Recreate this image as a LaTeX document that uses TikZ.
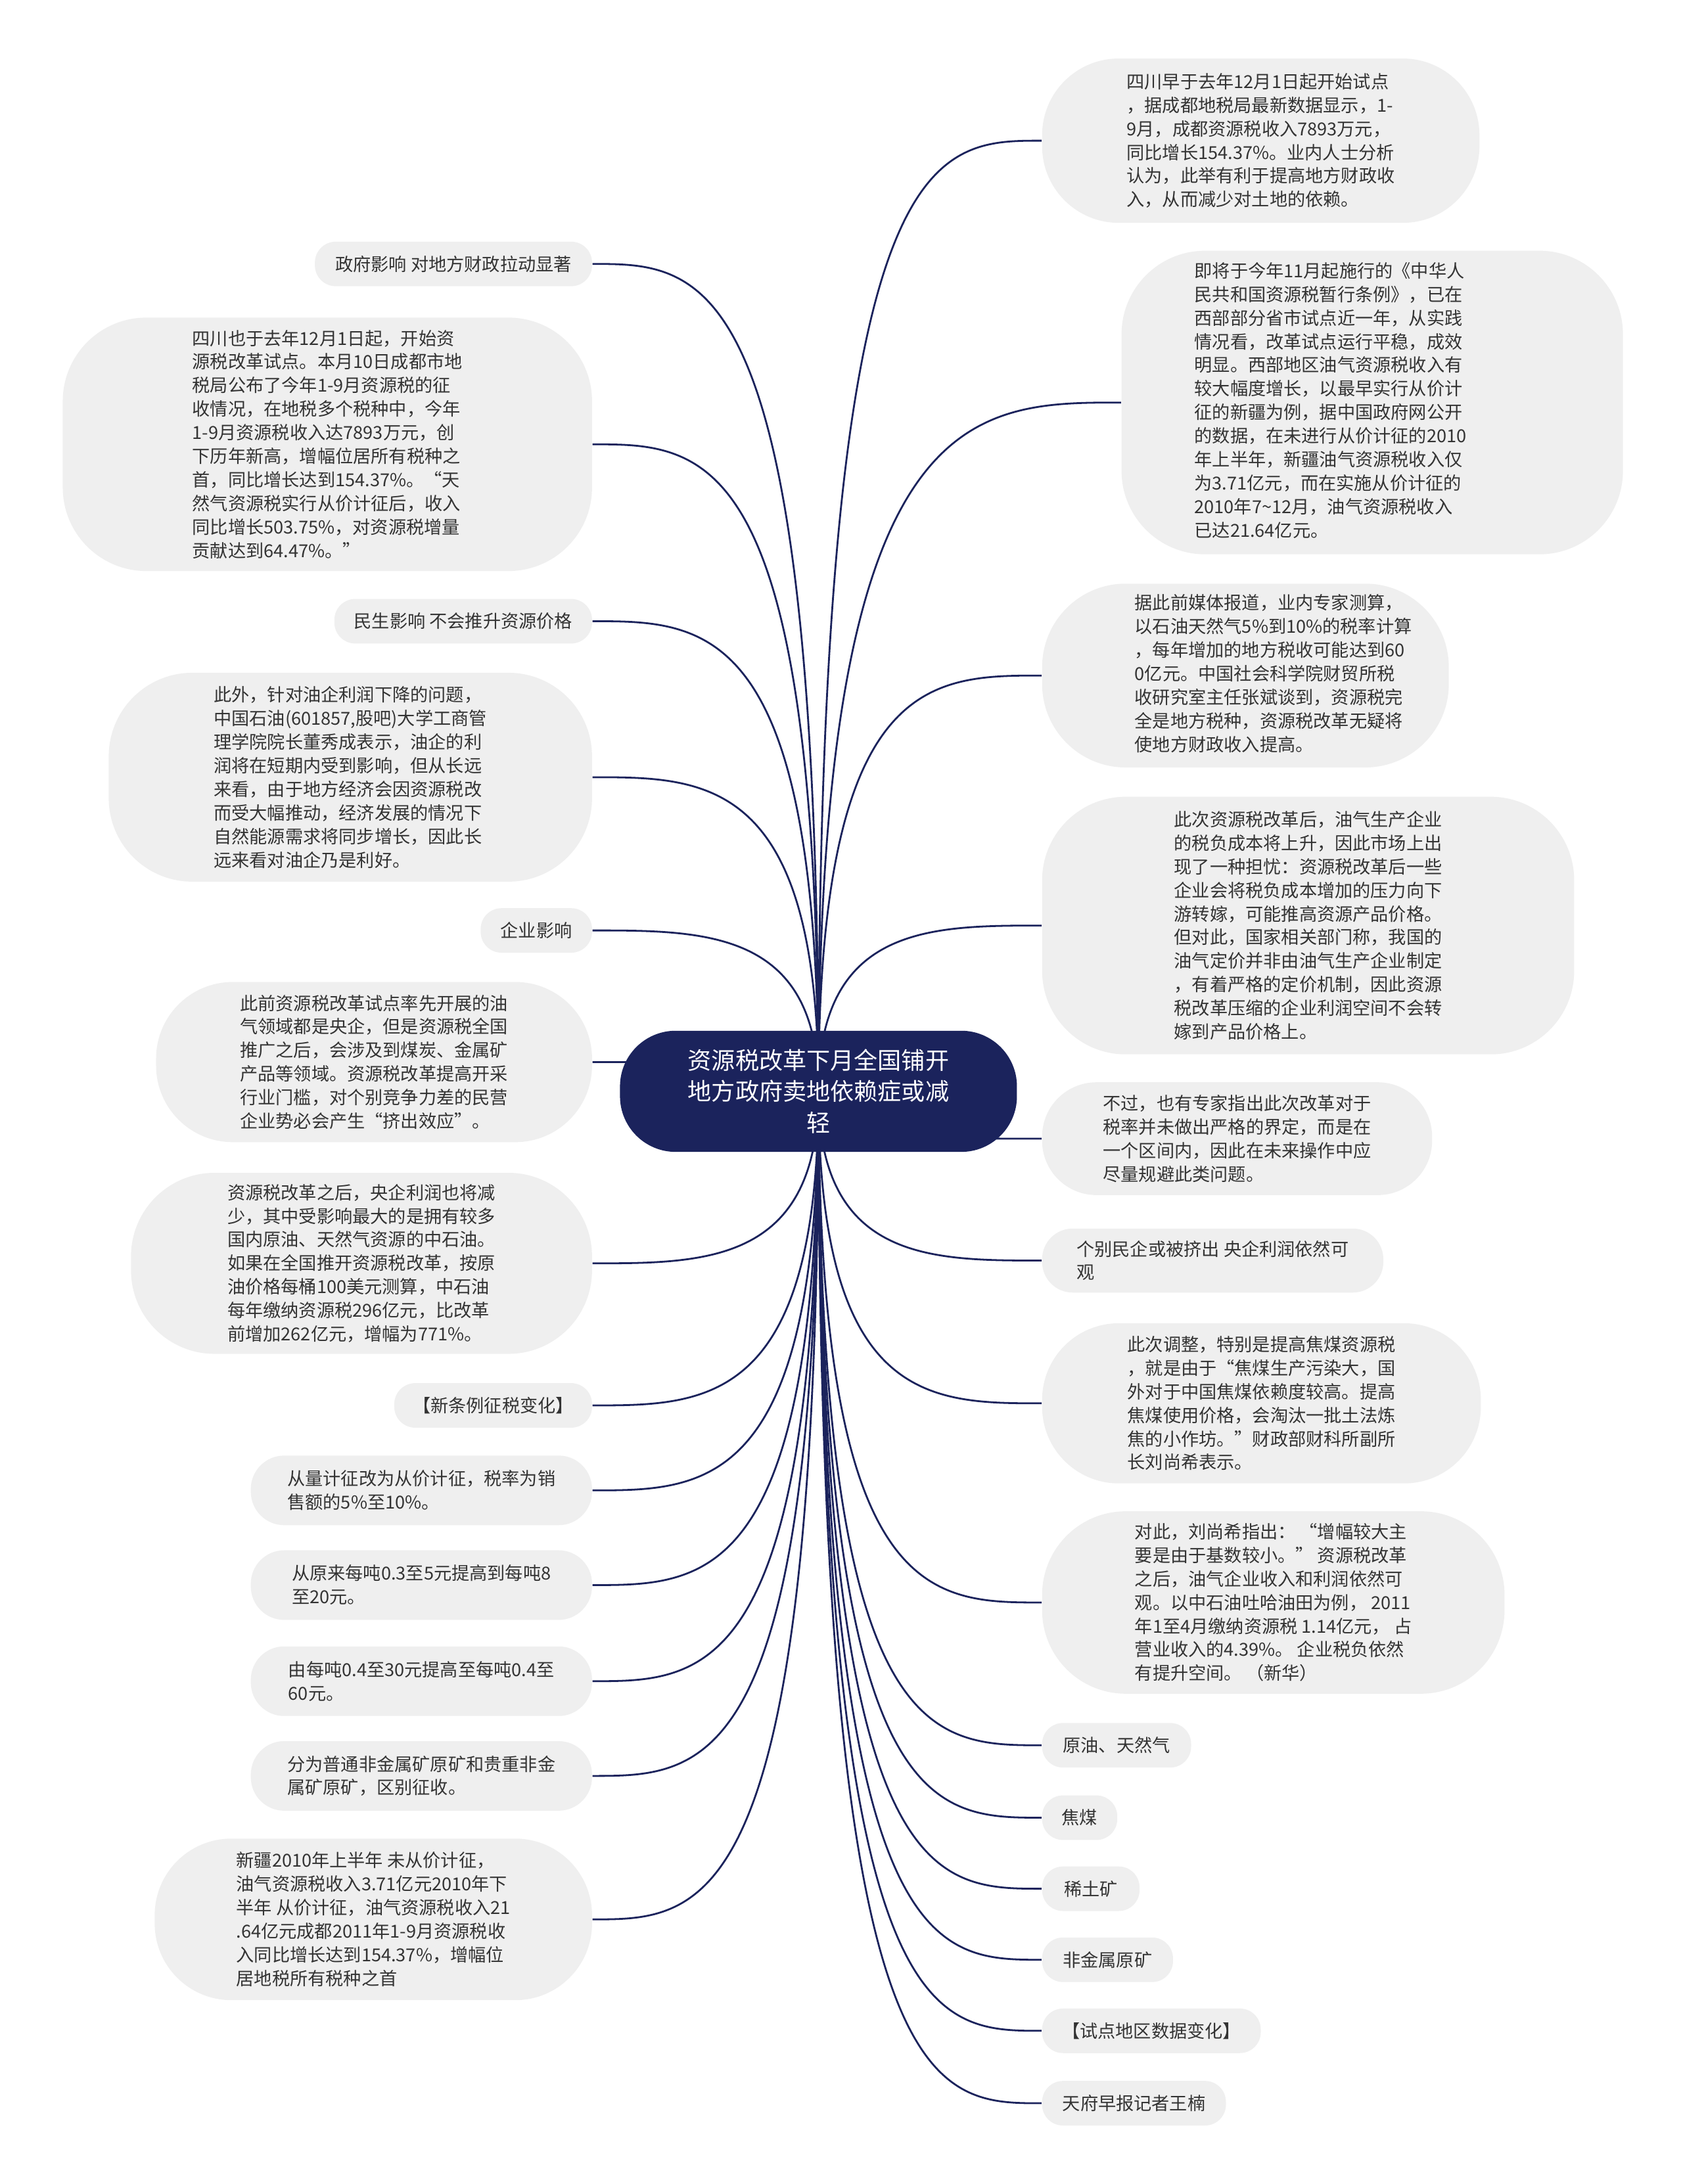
\documentclass[tikz,border=0pt]{standalone}
\usepackage{fontspec}
\newfontfamily\cjk{Noto Sans CJK SC}
\usetikzlibrary{calc, backgrounds}
\definecolor{mapNavy}{RGB}{27,35,92}
\definecolor{mapLeaf}{RGB}{239,239,239}
\definecolor{mapText}{RGB}{51,51,51}
\tikzset{
  leaf/.style={fill=mapLeaf, text=mapText, inner sep=0pt, align=left,
    font=\cjk\fontsize{7.3}{9.64}\selectfont},
  pill/.style={leaf, minimum height=0.64cm, rounded corners=0.3cm},
  pair/.style={leaf, minimum height=1.0cm, rounded corners=0.48cm},
  bubble/.style={leaf, rounded corners=1.2cm},
  hub/.style={fill=mapNavy, text=white, inner sep=0pt, align=center,
    minimum width=5.7cm, minimum height=1.74cm, rounded corners=0.8cm,
    font=\cjk\fontsize{9.7}{12.8}\selectfont},
  link/.style={draw=mapNavy, line width=0.75pt}
}
\begin{document}
\begin{tikzpicture}[x=0.02cm, y=-0.02cm]
\useasboundingbox (0,0) rectangle (1208,1568);
% centre
\node[hub] (root) at (587.5,783.5) {资源税改革下月全国铺开\\地方政府卖地依赖症或减\\轻};
% left branch
\node[pill, minimum width=3.98cm] (l1) at (325.5,189.5) {政府影响 对地方财政拉动显著};
\node[bubble, minimum width=7.6cm, minimum height=3.64cm] (l2) at (235,319)
  {四川也于去年12月1日起，开始资\\源税改革试点。本月10日成都市地\\税局公布了今年1-9月资源税的征\\收情况，在地税多个税种中，今年\\1-9月资源税收入达7893万元，创\\下历年新高，增幅位居所有税种之\\首，同比增长达到154.37\%。“天\\然气资源税实行从价计征后，收入\\同比增长503.75\%，对资源税增量\\贡献达到64.47\%。”};
\node[pill, minimum width=3.7cm] (l3) at (332.5,446) {民生影响 不会推升资源价格};
\node[bubble, minimum width=6.94cm, minimum height=3.0cm] (l4) at (251.5,558)
  {此外，针对油企利润下降的问题，\\中国石油(601857,股吧)大学工商管\\理学院院长董秀成表示，油企的利\\润将在短期内受到影响，但从长远\\来看，由于地方经济会因资源税改\\而受大幅推动，经济发展的情况下\\自然能源需求将同步增长，因此长\\远来看对油企乃是利好。};
\node[pill, minimum width=1.6cm] (l5) at (385,668) {企业影响};
\node[bubble, rounded corners=1.1cm, minimum width=6.26cm, minimum height=2.3cm] (l6) at (268.5,762.5)
  {此前资源税改革试点率先开展的油\\气领域都是央企，但是资源税全国\\推广之后，会涉及到煤炭、金属矿\\产品等领域。资源税改革提高开采\\行业门槛，对个别竞争力差的民营\\企业势必会产生“挤出效应”。};
\node[bubble, minimum width=6.62cm, minimum height=2.6cm] (l7) at (259.5,907)
  {资源税改革之后，央企利润也将减\\少，其中受影响最大的是拥有较多\\国内原油、天然气资源的中石油。\\如果在全国推开资源税改革，按原\\油价格每桶100美元测算，中石油\\每年缴纳资源税296亿元，比改革\\前增加262亿元，增幅为771\%。};
\node[pill, minimum width=2.84cm] (l8) at (354,1009) {【新条例征税变化】};
\node[pair, minimum width=4.9cm] (l9) at (302.5,1070) {从量计征改为从价计征，税率为销\\售额的5\%至10\%。};
\node[pair, minimum width=4.9cm] (l10) at (302.5,1138) {从原来每吨0.3至5元提高到每吨8\\至20元。};
\node[pair, minimum width=4.9cm] (l11) at (302.5,1207) {由每吨0.4至30元提高至每吨0.4至\\60元。};
\node[pair, minimum width=4.9cm] (l12) at (302.5,1275) {分为普通非金属矿原矿和贵重非金\\属矿原矿，区别征收。};
\node[bubble, rounded corners=1.1cm, minimum width=6.28cm, minimum height=2.32cm] (l13) at (268,1378)
  {新疆2010年上半年 未从价计征，\\油气资源税收入3.71亿元2010年下\\半年 从价计征，油气资源税收入21\\.64亿元成都2011年1-9月资源税收\\入同比增长达到154.37\%，增幅位\\居地税所有税种之首};
% right branch
\node[bubble, rounded corners=1.1cm, minimum width=6.28cm, minimum height=2.36cm] (r1) at (905,101)
  {四川早于去年12月1日起开始试点\\，据成都地税局最新数据显示，1-\\9月，成都资源税收入7893万元，\\同比增长154.37\%。业内人士分析\\认为，此举有利于提高地方财政收\\入，从而减少对土地的依赖。};
\node[bubble, minimum width=7.2cm, minimum height=4.36cm] (r2) at (985,289)
  {\begin{tabular}{@{}l@{}}即将于今年11月起施行的《中华人\\民共和国资源税暂行条例》，已在\\西部部分省市试点近一年，从实践\\情况看，改革试点运行平稳，成效\\明显。西部地区油气资源税收入有\\较大幅度增长，以最早实行从价计\\征的新疆为例，据中国政府网公开\\的数据，在未进行从价计征的2010\\年上半年，新疆油气资源税收入仅\\为3.71亿元，而在实施从价计征的\\2010年7\textasciitilde12月，油气资源税收入\\已达21.64亿元。\end{tabular}\rule{1.2cm}{0pt}};
\node[bubble, minimum width=5.84cm, minimum height=2.64cm] (r3) at (894,485)
  {\rule{0.8cm}{0pt}\begin{tabular}{@{}l@{}}据此前媒体报道，业内专家测算，\\以石油天然气5\%到10\%的税率计算\\，每年增加的地方税收可能达到60\\0亿元。中国社会科学院财贸所税\\收研究室主任张斌谈到，资源税完\\全是地方税种，资源税改革无疑将\\使地方财政收入提高。\end{tabular}};
\node[bubble, minimum width=7.64cm, minimum height=3.7cm] (r4) at (939,664.5)
  {此次资源税改革后，油气生产企业\\的税负成本将上升，因此市场上出\\现了一种担忧：资源税改革后一些\\企业会将税负成本增加的压力向下\\游转嫁，可能推高资源产品价格。\\但对此，国家相关部门称，我国的\\油气定价并非由油气生产企业制定\\，有着严格的定价机制，因此资源\\税改革压缩的企业利润空间不会转\\嫁到产品价格上。};
\node[bubble, rounded corners=0.78cm, minimum width=5.6cm, minimum height=1.62cm] (r5) at (888,817.5)
  {不过，也有专家指出此次改革对于\\税率并未做出严格的界定，而是在\\一个区间内，因此在未来操作中应\\尽量规避此类问题。};
\node[pair, rounded corners=0.44cm, minimum width=4.9cm, minimum height=0.92cm] (r6) at (870.5,905)
  {个别民企或被挤出 央企利润依然可\\观};
\node[bubble, rounded corners=1.1cm, minimum width=6.3cm, minimum height=2.3cm] (r7) at (905.5,1007.5)
  {此次调整，特别是提高焦煤资源税\\，就是由于“焦煤生产污染大，国\\外对于中国焦煤依赖度较高。提高\\焦煤使用价格，会淘汰一批土法炼\\焦的小作坊。”财政部财科所副所\\长刘尚希表示。};
\node[bubble, minimum width=6.64cm, minimum height=2.62cm] (r8) at (914,1150.5)
  {对此，刘尚希指出： “增幅较大主\\要是由于基数较小。” 资源税改革\\之后，油气企业收入和利润依然可\\观。以中石油吐哈油田为例， 2011\\年1至4月缴纳资源税 1.14亿元， 占\\营业收入的4.39\%。 企业税负依然\\有提升空间。 （新华）};
\node[pill, minimum width=2.14cm] (r9) at (801.5,1253) {原油、天然气};
\node[pill, minimum width=1.08cm] (r10) at (775,1305) {焦煤};
\node[pill, minimum width=1.4cm] (r11) at (783,1356) {稀土矿};
\node[pill, minimum width=1.88cm] (r12) at (795,1407) {非金属原矿};
\node[pill, minimum width=3.14cm] (r13) at (826.5,1458) {【试点地区数据变化】};
\node[pill, minimum width=2.64cm] (r14) at (814,1510) {天府早报记者王楠};
% connectors
\begin{scope}[on background layer]
\foreach \c in {l1,l2,l3,l4,l5,l6,l7,l8,l9,l10,l11,l12,l13}
  \draw[link] (root.center) .. controls (root.center |- \c.east) and ($(root.center |- \c.east)!0.5!(\c.east)$) .. (\c.east);
\foreach \c in {r1,r2,r3,r4,r5,r6,r7,r8,r9,r10,r11,r12,r13,r14}
  \draw[link] (root.center) .. controls (root.center |- \c.west) and ($(root.center |- \c.west)!0.5!(\c.west)$) .. (\c.west);
\end{scope}
\end{tikzpicture}
\end{document}
